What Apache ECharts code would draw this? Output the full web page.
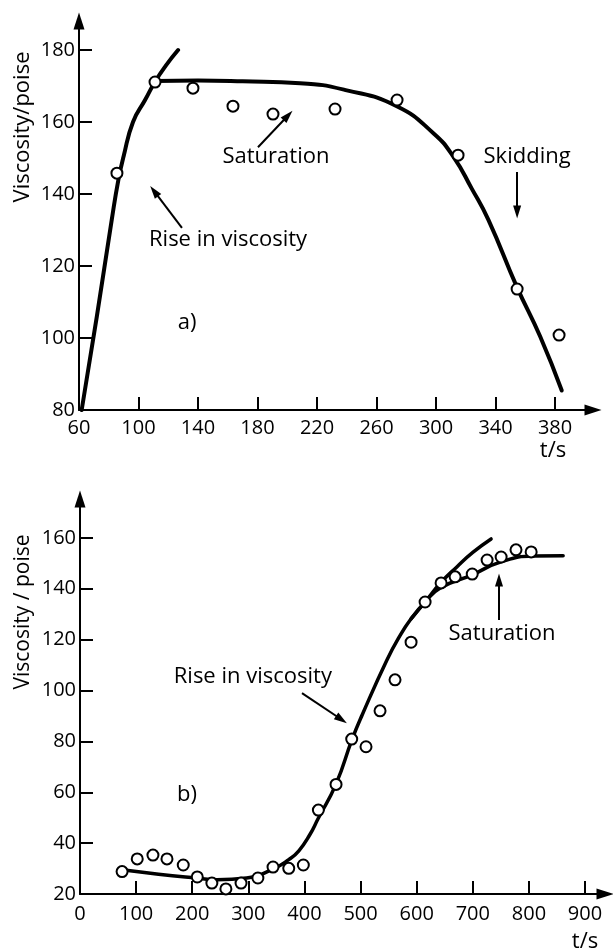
<!DOCTYPE html>
<html>
<head>
<meta charset="utf-8">
<script src="https://cdn.jsdelivr.net/npm/echarts@6/dist/echarts.min.js"></script>
<style>
  html, body { margin: 0; padding: 0; background: #fff; }
  #chart { width: 613px; height: 952px; }
</style>
</head>
<body>
<div id="chart"></div>
<script>
// Panel a) measured viscosity (poise) against time (s)
const aTime = [85.5, 111.1, 136.6, 163.5, 190.4, 232.1, 273.8, 314.8, 354.5, 382.7];
const aVisc = [145.8, 171.1, 169.4, 164.4, 162.2, 163.6, 166.1, 150.8, 113.6, 100.8];

// Panel a) fitted curves: initial rise, then saturation and skidding
const aRiseTime = [61.8, 72, 82, 86.5, 90, 96.3, 104.4, 111.1, 118.6, 126.6];
const aRiseVisc = [80, 106, 132.8, 144, 150.5, 160, 166.1, 171.2, 175.8, 180];
const aSatTime = [111.1, 140, 170, 208.6, 240, 273.6, 298.2, 311.6, 324, 335.2, 354.3, 370, 384.5];
const aSatVisc = [171.4, 171.5, 171.3, 170.8, 168.8, 164.4, 156.9, 150.4, 141.5, 132.8, 114.2, 100.4, 85.4];

// Panel b) measured viscosity (poise) against time (s)
const bTime = [75, 102, 130, 155, 184, 209, 235, 260, 287, 317, 344, 372, 398, 424.8, 456.3, 484.2, 509.7, 534.7, 561.4, 590, 615, 643.5, 668.5, 699, 725.5, 750.5, 777, 804];
const bVisc = [28.8, 33.8, 35.3, 33.8, 31.4, 26.7, 24.3, 22, 24.3, 26.3, 30.6, 30.1, 31.4, 53, 63.1, 80.9, 77.9, 92, 104.2, 119, 134.8, 142.3, 144.7, 145.8, 151.3, 152.5, 155.3, 154.5];

// Panel b) fitted curves: sigmoid to saturation, and the rising branch
const bMainTime = [75, 140, 208, 244, 297, 344, 372, 390, 410, 424, 456, 485, 503, 547, 570, 590, 615, 642, 699, 749, 808, 861];
const bMainVisc = [29.5, 27.8, 26.3, 25.6, 26.3, 29.8, 33.5, 37, 43.5, 49.5, 63.1, 80.9, 90.5, 112, 121.5, 128.2, 134.8, 140.3, 145.5, 150.5, 152.9, 153];
const bRiseTime = [590, 615, 642, 672, 700, 732.6];
const bRiseVisc = [128.2, 134.8, 142.2, 148.7, 154.3, 159.6];

// Tick values
const aXTicks = [60, 100, 140, 180, 220, 260, 300, 340, 380];
const aYTicks = [80, 100, 120, 140, 160, 180];
const bXTicks = [0, 100, 200, 300, 400, 500, 600, 700, 800, 900];
const bYTicks = [20, 40, 60, 80, 100, 120, 140, 160];

const FONT = '"Open Sans", "DejaVu Sans", sans-serif';
const INK = '#000';

function pairs(xs, ys) { return xs.map((x, i) => [x, ys[i]]); }

function valueAxis(gridIndex, min, max, labels, margin) {
  return {
    type: 'value', gridIndex, min, max,
    axisLine: {
      show: true, onZero: false,
      symbol: ['none', 'triangle'], symbolSize: [11, 17],
      lineStyle: { color: INK, width: 2 }
    },
    axisTick: {
      show: true, inside: true, length: 13,
      customValues: labels.slice(1),
      lineStyle: { color: INK, width: 2 }
    },
    axisLabel: {
      show: true, customValues: labels, margin,
      color: INK, fontFamily: FONT, fontSize: 20, hideOverlap: false
    },
    splitLine: { show: false }
  };
}

function curve(name, gi, xs, ys, width) {
  return {
    name, type: 'line', xAxisIndex: gi, yAxisIndex: gi,
    data: pairs(xs, ys), smooth: 0.5,
    showSymbol: false, silent: true, z: 2,
    lineStyle: { color: INK, width, cap: 'round', join: 'round' }
  };
}

function points(name, gi, xs, ys) {
  return {
    name, type: 'scatter', xAxisIndex: gi, yAxisIndex: gi,
    data: pairs(xs, ys), symbol: 'circle', symbolSize: 11, z: 3, silent: true,
    itemStyle: { color: '#ffffff', opacity: 1, borderColor: INK, borderWidth: 2 },
    emphasis: { disabled: true }
  };
}

// Annotation arrows (data coordinates) and captions
function arrows(list) {
  return {
    silent: true, animation: false,
    symbol: ['none', 'triangle'], symbolSize: [8, 13],
    lineStyle: { color: INK, width: 2, type: 'solid' },
    label: { show: false },
    emphasis: { disabled: true },
    data: list.map(a => [{ coord: a[0] }, { coord: a[1] }])
  };
}
function captions(list) {
  return {
    silent: true, animation: false,
    symbol: 'rect', symbolSize: 1,
    itemStyle: { color: 'rgba(0,0,0,0)' },
    label: { show: true, position: 'inside', formatter: '{b}', color: INK, fontFamily: FONT, fontSize: 22 },
    data: list.map(c => ({ name: c[0], coord: c[1] }))
  };
}

const aRise = curve('a-rise', 0, aRiseTime, aRiseVisc, 4);
aRise.markLine = arrows([
  [[129.2, 130.6], [110.5, 140.8]],
  [[180.3, 153], [200.5, 161.8]],
  [[354.5, 146.1], [354.5, 135]]
]);
aRise.markPoint = captions([
  ['Rise in viscosity', [160.2, 127.2]],
  ['Saturation', [192.4, 150.3]],
  ['Skidding', [361.2, 150.3]],
  ['a)', [132.6, 104.2]]
]);

const bMain = curve('b-main', 1, bMainTime, bMainVisc, 3.5);
bMain.markLine = arrows([
  [[395.6, 99], [466, 88.6]],
  [[746.7, 127.7], [746.7, 143.5]]
]);
bMain.markPoint = captions([
  ['Rise in viscosity', [308, 105.3]],
  ['Saturation', [752, 122.2]],
  ['b)', [190.7, 58.9]]
]);

const chart = echarts.init(document.getElementById('chart'), null, { renderer: 'canvas' });
chart.setOption({
  animation: false,
  backgroundColor: '#fff',
  grid: [
    { left: 79, right: 20, top: 21, bottom: 542, outerBoundsMode: 'none' },
    { left: 80, right: 8, top: 499, bottom: 58, outerBoundsMode: 'none' }
  ],
  xAxis: [
    valueAxis(0, 60, 405.5, aXTicks, 8),
    valueAxis(1, 0, 935.6, bXTicks, 10)
  ],
  yAxis: [
    valueAxis(0, 80, 188.06, aYTicks, 4),
    valueAxis(1, 20, 175.3, bYTicks, 4)
  ],
  graphic: [
    { type: 'text', x: 23, y: 127, rotation: Math.PI / 2,
      style: { text: 'Viscosity/poise', fill: INK, font: '22px ' + FONT, align: 'center', verticalAlign: 'middle' } },
    { type: 'text', x: 23, y: 612, rotation: Math.PI / 2,
      style: { text: 'Viscosity / poise', fill: INK, font: '21px ' + FONT, align: 'center', verticalAlign: 'middle' } },
    { type: 'text', x: 553, y: 451,
      style: { text: 't/s', fill: INK, font: '22px ' + FONT, align: 'center', verticalAlign: 'middle' } },
    { type: 'text', x: 585, y: 942,
      style: { text: 't/s', fill: INK, font: '22px ' + FONT, align: 'center', verticalAlign: 'middle' } }
  ],
  series: [
    aRise,
    curve('a-saturation', 0, aSatTime, aSatVisc, 4),
    points('a-measured', 0, aTime, aVisc),
    bMain,
    curve('b-rise', 1, bRiseTime, bRiseVisc, 3.5),
    points('b-measured', 1, bTime, bVisc)
  ]
});
</script>
</body>
</html>
